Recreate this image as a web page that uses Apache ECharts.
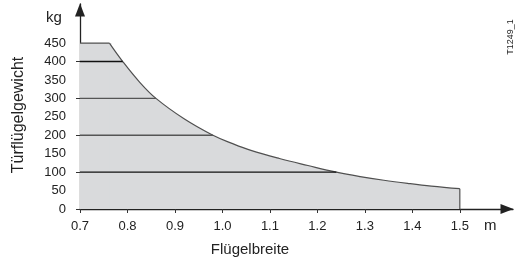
<!DOCTYPE html>
<html>
<head>
    <meta charset="utf-8">
    <title>Türflügelgewicht</title>
    <script src="https://cdn.jsdelivr.net/npm/echarts@6/dist/echarts.min.js"></script>
    <style>
        html, body { margin: 0; padding: 0; background: #fff; }
        #chart1 { width: 516px; height: 265px; }
    </style>
</head>
<body>
<div id="chart1"></div>
<script type="text/javascript">
    // Flügelbreite (m) / Türflügelgewicht (kg)
    var plateauBreite  = [0.70, 0.762];
    var plateauGewicht = [450, 450];
    var breite  = [0.762, 0.79, 0.825, 0.86, 0.92, 0.98, 1.02, 1.06, 1.12, 1.18, 1.24, 1.29, 1.34, 1.39, 1.44, 1.50];
    var gewicht = [450,   400,  345,   300,  244,  200,  178,  159,  137,  118,  100,  88,   78,   69.5, 62,   55];
    var endeBreite = 1.5;

    // Hilfslinien: Gewicht -> Breite am Kurvenrand
    var stufen      = [100, 200, 300, 400];
    var stufenEnde  = [1.24, 0.98, 0.86, 0.79];
    var stufenFarbe = ['#111', '#555', '#555', '#111'];

    var xTicks = [0.7, 0.8, 0.9, 1.0, 1.1, 1.2, 1.3, 1.4, 1.5];
    var yLabels = [0, 50, 100, 150, 200, 250, 300, 350, 400, 450];
    var yTicks = [0, 100, 200, 300, 400];

    var myChart1 = echarts.init(document.getElementById('chart1'));

    var grau = '#d9dadc';
    var rand = { color: '#505050', width: 1.2 };
    var plateau = plateauBreite.map(function (b, i) { return [b, plateauGewicht[i]]; });

    var series = [{
        // Flaeche unter dem Plateau, leicht unter die Kurve gezogen (keine Naht)
        type: 'line',
        data: [plateau[0], [plateau[1][0] + 0.004, plateau[1][1]]],
        symbol: 'none',
        lineStyle: { width: 0 },
        areaStyle: { color: grau, opacity: 1 },
        z: 1
    }, {
        type: 'line',
        data: plateau,
        symbol: 'none',
        lineStyle: rand,
        z: 3
    }, {
        type: 'line',
        data: breite.map(function (b, i) { return [b, gewicht[i]]; }),
        symbol: 'none',
        smooth: 0.4,
        lineStyle: rand,
        areaStyle: { color: grau, opacity: 1 },
        z: 2
    }, {
        type: 'line',
        data: [[endeBreite, gewicht[gewicht.length - 1]], [endeBreite, 0]],
        symbol: 'none',
        lineStyle: rand,
        z: 3
    }];
    stufen.forEach(function (g, i) {
        series.push({
            type: 'line',
            data: [[0.7, g], [stufenEnde[i], g]],
            symbol: 'none',
            lineStyle: { color: stufenFarbe[i], width: 1.3 },
            z: 3
        });
    });

    var font = 'Liberation Sans, Arial, sans-serif';

    myChart1.setOption({
        animation: false,
        grid: { left: 80, right: 3, top: 4, bottom: 56 },
        xAxis: {
            type: 'value',
            min: 0.7,
            max: 1.612,
            splitLine: { show: false },
            axisLine: {
                lineStyle: { color: '#222', width: 1.3 },
                symbol: ['none', 'triangle'],
                symbolSize: [10, 13],
                symbolOffset: [0, -6]
            },
            axisTick: { show: true, length: 4, customValues: xTicks, lineStyle: { color: '#333' } },
            axisLabel: {
                customValues: xTicks,
                margin: 11,
                color: '#222',
                fontSize: 13,
                fontFamily: font,
                formatter: function (v) { return v.toFixed(1); }
            }
        },
        yAxis: {
            type: 'value',
            min: 0,
            max: 556,
            splitLine: { show: false },
            axisLine: {
                show: true,
                lineStyle: { color: '#222', width: 1.3 },
                symbol: ['none', 'triangle'],
                symbolSize: [10, 13],
                symbolOffset: [0, -6]
            },
            axisTick: { show: true, length: 4, customValues: yTicks, lineStyle: { color: '#333' } },
            axisLabel: {
                customValues: yLabels,
                margin: 14,
                color: '#222',
                fontSize: 13,
                fontFamily: font
            }
        },
        graphic: [
            { type: 'text', left: 46, top: 10, style: { text: 'kg', fontSize: 15, fontFamily: font, fill: '#222' } },
            { type: 'text', left: 484, top: 218, style: { text: 'm', fontSize: 15, fontFamily: font, fill: '#222' } },
            { type: 'text', x: 250, y: 250, style: { text: 'Flügelbreite', fontSize: 15, fontFamily: font, fill: '#222', align: 'center', verticalAlign: 'middle' } },
            { type: 'text', x: 19, y: 115, rotation: Math.PI / 2, style: { text: 'Türflügelgewicht', fontSize: 16, fontFamily: font, fill: '#222', align: 'center', verticalAlign: 'middle' } },
            { type: 'text', x: 511, y: 37, rotation: Math.PI / 2, style: { text: 'T1249_1', fontSize: 9, fontFamily: font, fill: '#222', align: 'center', verticalAlign: 'middle' } }
        ],
        series: series
    });
</script>
</body>
</html>
